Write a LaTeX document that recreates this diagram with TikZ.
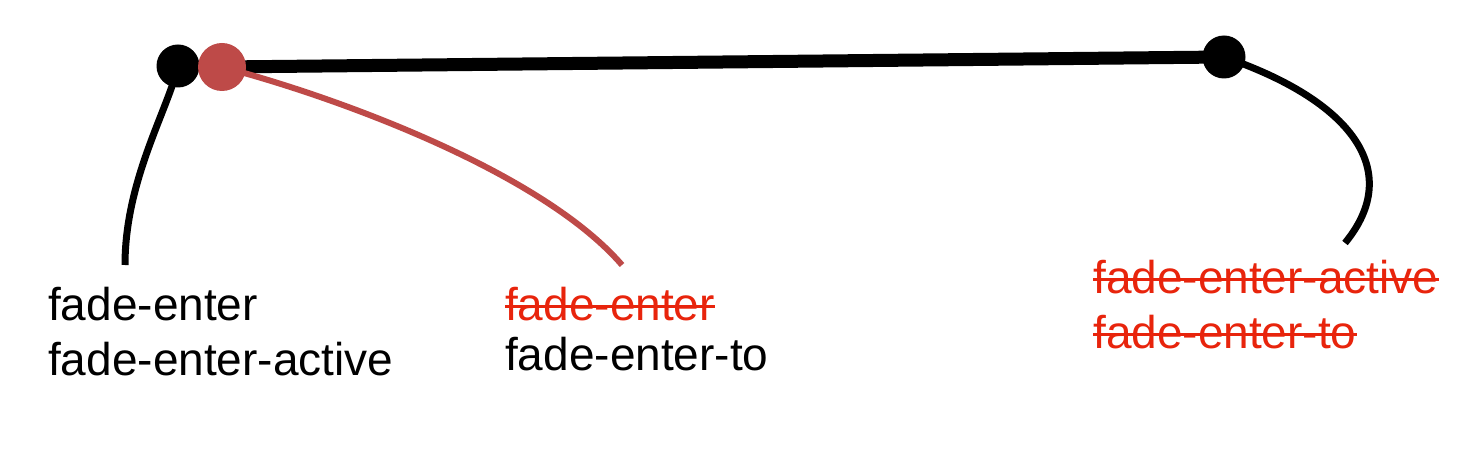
\documentclass[tikz,border=0pt]{standalone}
\usepackage{fontspec}
\setmainfont{Liberation Sans}
\definecolor{dotred}{RGB}{190,74,72}
\definecolor{txtred}{RGB}{232,36,12}
\begin{document}
\begin{tikzpicture}[x=1pt,y=-1pt,
  dotnode/.style={circle,inner sep=0pt,minimum size=#1},
  lbl/.style={anchor=base west,inner sep=0pt,font=\fontsize{46}{55}\selectfont},
  thin curve/.style={line width=7pt},
  strike/.style={draw=txtred,line width=3pt},
]
\useasboundingbox (0,0) rectangle (1475,465);
\fill[white] (0,0) rectangle (1475,465);
% dots (positions)
\node[dotnode=43pt] (b1) at (178,66) {};
\node[dotnode=48pt] (r1) at (222,67) {};
\node[dotnode=43pt] (b2) at (1224,57) {};
\coordinate (e1) at (125,265);
\coordinate (e2) at (622,265);
\coordinate (e3) at (1345,243);
% connectors
\draw[line width=13pt] (r1.center) -- (b2.center);
\draw[thin curve] (b1.center) .. controls (168,110) and (125,180) .. (e1);
\draw[thin curve,line width=6pt,dotred] (r1.center) .. controls (330,95) and (540,170) .. (e2);
\draw[thin curve] (b2.center) .. controls (1350,100) and (1405,170) .. (e3);
% dot fills
\fill[black] (b1) circle (21.5pt);
\fill[dotred] (r1) circle (24pt);
\fill[black] (b2) circle (21.5pt);
% labels
\node[lbl] (t1) at (48,320) {fade-enter};
\node[lbl] (t2) at (48,375) {fade-enter-active};
\node[lbl,text=txtred] (t3) at (505,320) {fade-enter};
\node[lbl] (t4) at (505,370) {fade-enter-to};
\node[lbl,text=txtred] (t5) at (1093,293) {fade-enter-active};
\node[lbl,text=txtred] (t6) at (1093,348) {fade-enter-to};
\foreach \t in {t3,t5,t6}
  \draw[strike] ([yshift=13.5pt]\t.base west) -- ([yshift=13.5pt]\t.base east);
\end{tikzpicture}
\end{document}
